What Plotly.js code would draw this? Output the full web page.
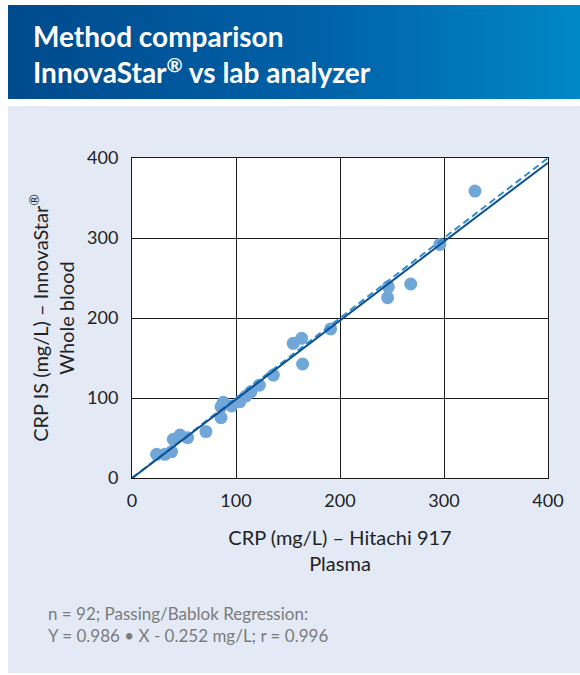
<!DOCTYPE html>
<html>
<head>
<meta charset="utf-8">
<script src="https://cdn.plot.ly/plotly-3.0.1.min.js"></script>
<style>html,body{margin:0;padding:0;background:#fff;}#chart{width:580px;height:675px;}</style>
</head>
<body>
<div id="chart"></div>
<script>
// Data
const crpHitachi = [23.7, 31.7, 38.1, 39.7, 46.2, 53.5, 71.1, 85.6, 85.6, 87.8, 95.8, 103.8, 109.6, 114.4, 122.4, 135.9, 155, 163.1, 164, 191, 245.8, 246.5, 268, 296, 329.8];
const crpIS      = [29.6, 29.6, 33.0, 48.3, 53.7, 50.4, 58.0, 75.4, 89.0, 94.6, 90.0, 95.4, 102.5, 108.0, 116.0, 128.7, 168.3, 174.6, 142.5, 186.3, 225.4, 239.0, 242.5, 292.0, 358.7];
const lineX = [0, 400];
const slope = 0.986, intercept = -0.252;
const tickVals = [0, 100, 200, 300, 400];
const tickText = ['0', '100', '200', '300', '400'];

// pixel helpers (plot area 132..548 x, 158..478 y)
const L = 132, R = 548, T = 158, B = 478;
const px = v => (v - L) / (R - L);
const py = v => (B - v) / (B - T);

const font = 'Lato, "Open Sans", sans-serif';

const svg = "<svg xmlns='http://www.w3.org/2000/svg' width='572' height='94' preserveAspectRatio='none'><defs><linearGradient id='g' x1='0' x2='1' y1='0' y2='0'><stop offset='0' stop-color='#004a8d'/><stop offset='0.55' stop-color='#0062a8'/><stop offset='1' stop-color='#0088c6'/></linearGradient></defs><rect width='572' height='94' fill='url(#g)'/></svg>";
const headerSrc = 'data:image/svg+xml;charset=utf-8,' + encodeURIComponent(svg);

const traces = [
  {type: 'scatter', mode: 'markers', x: crpHitachi, y: crpIS,
   marker: {size: 13, color: '#70a6d8'}, hoverinfo: 'x+y', showlegend: false},
  {type: 'scatter', mode: 'lines', x: lineX, y: lineX,
   line: {color: '#2a90d0', width: 2, dash: '7px,4px'}, showlegend: false},
  {type: 'scatter', mode: 'lines', x: lineX, y: lineX.map(v => slope * v + intercept),
   line: {color: '#0d4f93', width: 2}, showlegend: false}
];

const axisCommon = {
  range: [0, 400], tickvals: tickVals, ticktext: tickText,
  showgrid: true, gridcolor: '#1a1a1a', gridwidth: 1, zeroline: false,
  showline: true, linecolor: '#1a1a1a', linewidth: 1, mirror: true,
  ticks: 'outside', tickcolor: 'rgba(0,0,0,0)', fixedrange: true,
  tickfont: {family: font, size: 18, color: '#222'}
};

const layout = {
  width: 580, height: 675,
  margin: {l: L, r: 580 - R, t: T, b: 675 - B, pad: 0},
  paper_bgcolor: '#e3eaf5', plot_bgcolor: '#ffffff',
  showlegend: false,
  title: {text: 'Method comparison<br>InnovaStar<sup>®</sup> vs lab analyzer',
          font: {family: font, size: 28, color: '#ffffff', weight: 700},
          xref: 'container', x: 33 / 580, xanchor: 'left',
          yref: 'container', y: 1 - 47 / 675, yanchor: 'top'},
  xaxis: Object.assign({}, axisCommon, {ticklen: 6,
    title: {text: 'CRP (mg/L) – Hitachi 917<br>Plasma', font: {family: font, size: 20, color: '#222'}, standoff: 21}}),
  yaxis: Object.assign({}, axisCommon, {ticklen: 9,
    title: {text: 'CRP IS (mg/L) – InnovaStar<sup>®</sup><br>Whole blood', font: {family: font, size: 20, color: '#222'}, standoff: 7}}),
  shapes: [
    {type: 'rect', xref: 'paper', yref: 'paper', layer: 'below', line: {width: 0}, fillcolor: '#ffffff',
     x0: px(0), x1: px(580), y0: py(5), y1: py(0)},
    {type: 'rect', xref: 'paper', yref: 'paper', layer: 'below', line: {width: 0}, fillcolor: '#ffffff',
     x0: px(0), x1: px(580), y0: py(106), y1: py(99)},
    {type: 'rect', xref: 'paper', yref: 'paper', layer: 'below', line: {width: 0}, fillcolor: '#ffffff',
     x0: px(0), x1: px(8), y0: py(675), y1: py(0)},
    {type: 'rect', xref: 'paper', yref: 'paper', layer: 'below', line: {width: 0}, fillcolor: '#ffffff',
     x0: px(0), x1: px(580), y0: py(675), y1: py(673)}
  ],
  images: [
    {source: headerSrc, xref: 'paper', yref: 'paper', x: px(8), y: py(5),
     sizex: px(580) - px(8), sizey: py(5) - py(99), sizing: 'stretch',
     xanchor: 'left', yanchor: 'top', layer: 'below'}
  ],
  annotations: [
    {xref: 'paper', yref: 'paper', x: px(46), y: py(624), xanchor: 'left', yanchor: 'middle',
     align: 'left', showarrow: false,
     text: 'n = 92; Passing/Bablok Regression:<br>Y = 0.986 • X - 0.252 mg/L; r = 0.996',
     font: {family: font, size: 17, color: '#7b7b7b'}}
  ]
};

Plotly.newPlot('chart', traces, layout, {displayModeBar: false, staticPlot: true});
</script>
</body>
</html>
